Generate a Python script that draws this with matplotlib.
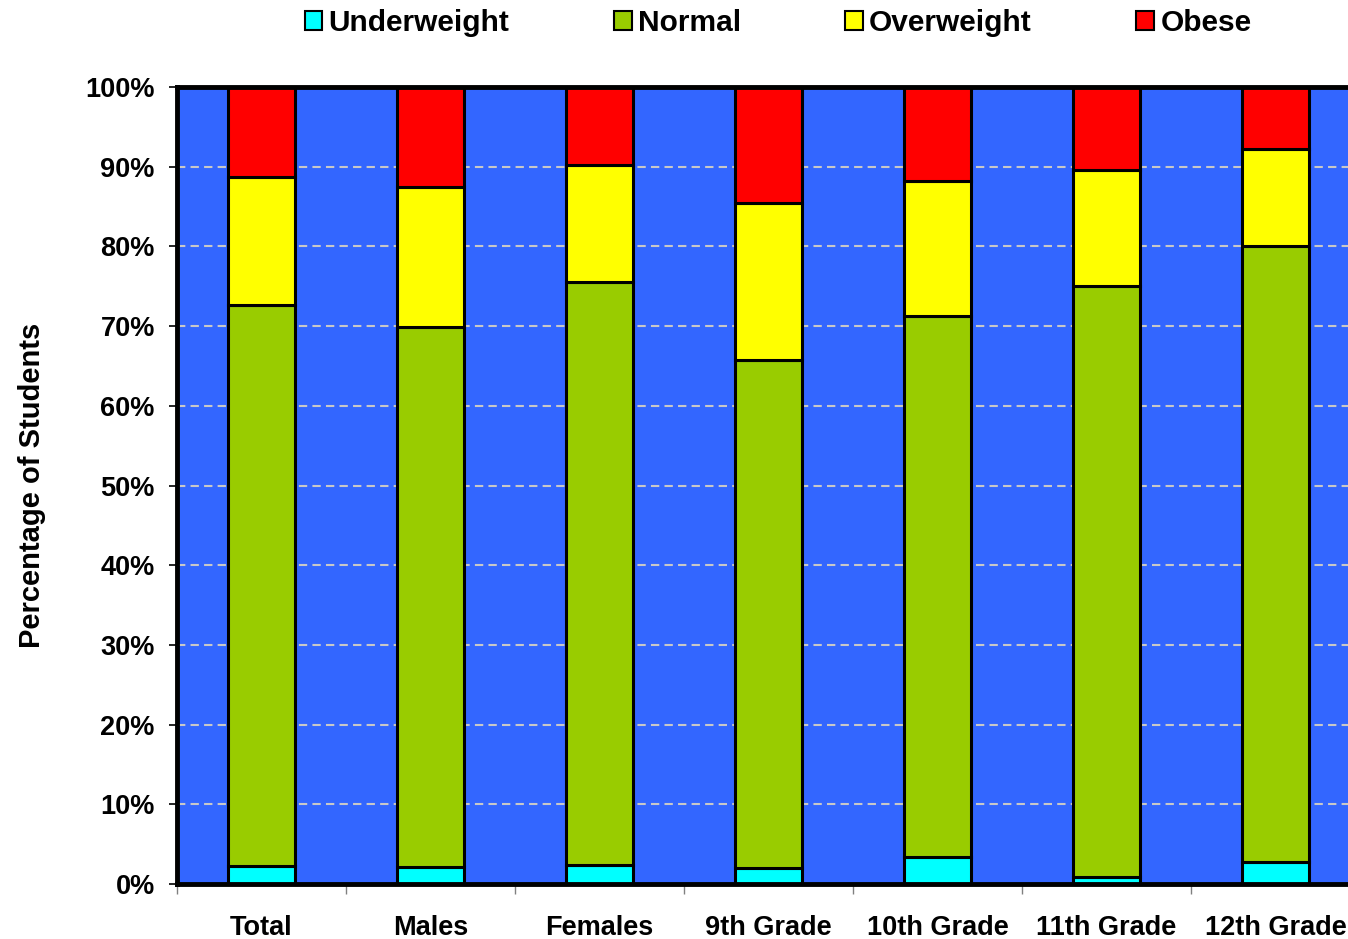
import matplotlib
matplotlib.use("Agg")
import matplotlib.pyplot as plt
from matplotlib.patches import Patch
from matplotlib.ticker import FixedLocator, PercentFormatter
import numpy as np

plt.rcParams['font.family'] = ['Liberation Sans', 'DejaVu Sans']
plt.rcParams['font.weight'] = 'bold'

groups = ["Total", "Males", "Females", "9th Grade", "10th Grade", "11th Grade", "12th Grade"]
underweight = [2.3, 2.1, 2.4, 2.0, 3.4, 0.9, 2.8]
normal = [70.3, 67.8, 73.1, 63.7, 67.9, 74.1, 77.2]
overweight = [16.1, 17.6, 14.7, 19.7, 16.9, 14.6, 12.2]
obese = [11.3, 12.5, 9.8, 14.6, 11.8, 10.4, 7.8]

series = [("Underweight", underweight, "#00FFFF"),
          ("Normal", normal, "#99CC00"),
          ("Overweight", overweight, "#FFFF00"),
          ("Obese", obese, "#FF0000")]

W, H = 1348, 939
fig = plt.figure(figsize=(W / 100, H / 100), dpi=100)
ax = fig.add_axes([177 / W, (H - 884) / H, (1360 - 177) / W, (884 - 87) / H])
ax.set_facecolor("#3366FF")

x = np.arange(len(groups))
bottom = np.zeros(len(groups))
for name, vals, col in series:
    ax.bar(x, vals, 0.4, bottom=bottom, color=col, edgecolor="black",
           linewidth=2.2, label=name, zorder=3)
    bottom += np.array(vals)

ax.set_xlim(-0.5, len(groups) - 0.5)
ax.set_ylim(0, 100)
ax.yaxis.set_major_locator(FixedLocator(np.arange(0, 101, 10)))
ax.yaxis.set_major_formatter(PercentFormatter(decimals=0))
ax.yaxis.grid(True, color="#C8C8C8", linestyle=(0, (4, 2.5)), linewidth=1.5, zorder=1)

ax.set_xticks(x)
ax.set_xticklabels(groups)
ax.set_xticks(np.arange(-0.5, len(groups), 1), minor=True)
ax.tick_params(axis="x", which="major", length=0, pad=22, labelsize=19.5)
ax.tick_params(axis="x", which="minor", length=7, width=1, color="#808080", direction="out")
ax.tick_params(axis="y", length=6, width=1.2, direction="out", pad=10, labelsize=19.5)

for s in ax.spines.values():
    s.set_linewidth(3.5)
    s.set_zorder(5)

ax.set_ylabel("Percentage of Students", fontsize=21, fontweight="bold", labelpad=28)

handles = [Patch(facecolor=c, edgecolor="black", linewidth=1.5, label=n) for n, v, c in series]
fig.legend(handles=handles, loc="center", bbox_to_anchor=(778 / W, 1 - 23 / H), ncol=4,
           frameon=False, fontsize=21.5, handlelength=0.6, handleheight=0.6,
           handletextpad=0.2, columnspacing=3.5)

fig.savefig("out.png", dpi=100)
